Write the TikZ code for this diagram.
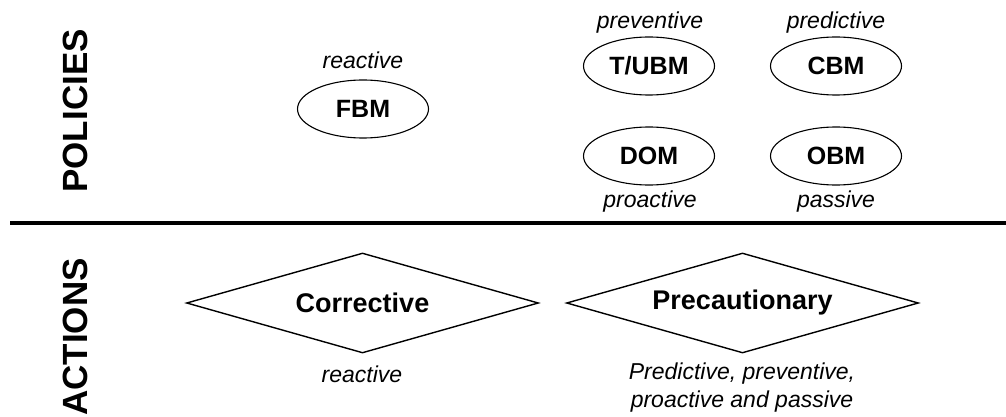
\documentclass[tikz,border=0pt]{standalone}
\usepackage{fontspec}
\setmainfont{Liberation Sans}
\usetikzlibrary{shapes.geometric}
\begin{document}
\begin{tikzpicture}[x=1pt,y=-1pt,
  policy/.style={ellipse,draw,line width=1.1pt,minimum width=131pt,minimum height=58pt,inner sep=0pt,
    font=\fontsize{25}{28}\selectfont\bfseries},
  action/.style={rectangle,minimum width=351pt,minimum height=99pt,inner sep=0pt,
    font=\fontsize{27}{30}\selectfont\bfseries},
  rhomb/.style={line width=1.4pt,line join=miter},
  tag/.style={font=\fontsize{23}{28}\selectfont\itshape,inner sep=0pt,align=center},
  section/.style={rotate=90,font=\fontsize{35}{40}\selectfont\bfseries,inner sep=0pt}]
\useasboundingbox (0,0) rectangle (1006,417);

% section headings
\node[section] (pol) at (75,111) {POLICIES};
\node[section] (act) at (75,337) {ACTIONS};

% divider between policies and actions
\coordinate (divL) at (10,223);
\coordinate (divR) at (1006,223);
\draw[line width=4.5pt] (divL) -- (divR);

% maintenance policies
\node[policy] (fbm) at (363,109) {FBM};
\node[policy] (tubm) at (649,66) {T/UBM};
\node[policy] (cbm) at (836,66) {CBM};
\node[policy] (dom) at (649,156) {DOM};
\node[policy] (obm) at (836,156) {OBM};

\node[tag] (fbmtag) at (363,60) {reactive};
\node[tag] (tubmtag) at (650,23) {preventive};
\node[tag] (cbmtag) at (836,23) {predictive};
\node[tag] (domtag) at (650,202) {proactive};
\node[tag] (obmtag) at (836,202) {passive};

% maintenance actions, outlined as flat rhombi through the box anchors
\node[action] (corr) at (362.5,303) {Corrective};
\node[action] (prec) at (742.5,303) {Precautionary};
\foreach \a in {corr,prec}
  \draw[rhomb] (\a.north) -- (\a.east) -- (\a.south) -- (\a.west) -- cycle;

\node[tag] (corrtag) at (362,374) {reactive};
\node[tag] (prectag) at (742,388) {Predictive, preventive,\\proactive and passive};
\end{tikzpicture}
\end{document}
